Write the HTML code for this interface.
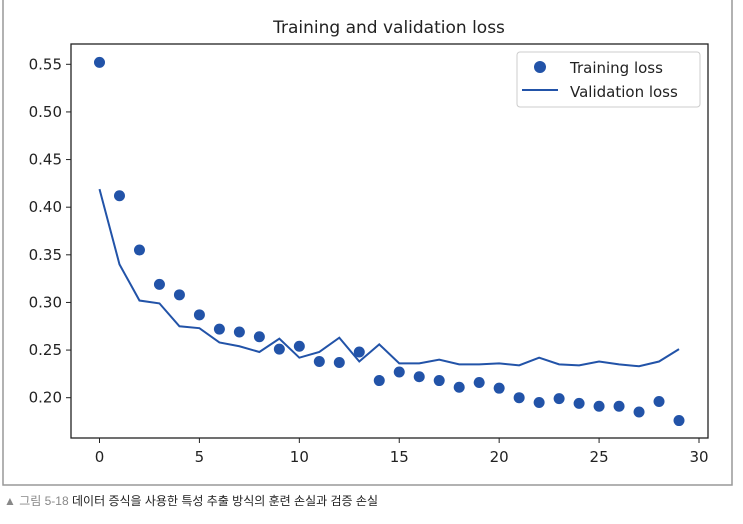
<!DOCTYPE html>
<html><head><meta charset="utf-8"><style>
body{margin:0;background:#fff;width:743px;height:519px;overflow:hidden}
svg text{font-family:"DejaVu Sans","Liberation Sans",sans-serif;fill:#222}
</style></head><body>
<svg width="743" height="519">
<rect x="3" y="-2" width="729" height="487" fill="#fff" stroke="#999" stroke-width="1.5"/>
<text x="389" y="33" font-size="17" text-anchor="middle">Training and validation loss</text>
<g id="plot"></g>
<g>
<rect x="517" y="52" width="183" height="55" fill="#fff" stroke="#ccc" rx="3"/>
<circle cx="540" cy="67" r="6" fill="#2253a8"/>
<text x="570" y="73" font-size="15">Training loss</text>
<line x1="522" y1="90" x2="558" y2="90" stroke="#2253a8" stroke-width="2"/>
<text x="570" y="97" font-size="15">Validation loss</text>
</g>
<text x="4" y="505" font-size="12" style="fill:#888;font-family:'Liberation Sans','Noto Sans CJK KR',sans-serif">▲ 그림 5-18 <tspan style="fill:#222">데이터 증식을 사용한 특성 추출 방식의 훈련 손실과 검증 손실</tspan></text>
</svg>
<script>
const epochs=[0,1,2,3,4,5,6,7,8,9,10,11,12,13,14,15,16,17,18,19,20,21,22,23,24,25,26,27,28,29];
const trainLoss=[0.552,0.412,0.355,0.319,0.308,0.287,0.272,0.269,0.264,0.251,0.254,0.238,0.237,0.248,0.218,0.227,0.222,0.218,0.211,0.216,0.210,0.200,0.195,0.199,0.194,0.191,0.191,0.185,0.196,0.176];
const valLoss=[0.419,0.340,0.302,0.299,0.275,0.273,0.258,0.254,0.248,0.262,0.242,0.248,0.263,0.238,0.256,0.236,0.236,0.240,0.235,0.235,0.236,0.234,0.242,0.235,0.234,0.238,0.235,0.233,0.238,0.251];
const xTicks=[0,5,10,15,20,25,30];
const yTicks=[0.20,0.25,0.30,0.35,0.40,0.45,0.50,0.55];
const NS="http://www.w3.org/2000/svg";
const X=v=>99.5+v*(699-99.5)/30;
const Y=v=>64.3+(0.55-v)*(397.7-64.3)/0.35;
const g=document.getElementById('plot');
function mk(t,a){const e=document.createElementNS(NS,t);for(const k in a)e.setAttribute(k,a[k]);g.appendChild(e);return e;}
const ax=mk('rect',{x:71,y:44,width:637,height:394,fill:'none',stroke:'#222','stroke-width':1.3});


xTicks.forEach(t=>{
 const l=mk('line',{x1:X(t),x2:X(t),y1:438,y2:443,stroke:'#222'});
 
 
 const tx=mk('text',{x:X(t),y:462,'font-size':15,'text-anchor':'middle'});tx.textContent=t;
 
 
});
yTicks.forEach(t=>{
 const l=mk('line',{x1:66,x2:71,y1:Y(t),y2:Y(t),stroke:'#222'});
 
 
 const tx=mk('text',{x:62,y:Y(t)+5,'font-size':15,'text-anchor':'end'});tx.textContent=t.toFixed(2);
 
 
});
const p=mk('polyline',{points:epochs.map((e,i)=>X(e)+','+Y(valLoss[i])).join(' '),fill:'none',stroke:'#2253a8','stroke-width':2});


epochs.forEach((e,i)=>{
 const c=mk('circle',{cx:X(e),cy:Y(trainLoss[i]),r:5.5,fill:'#2253a8'});
 
 
});
</script>
</body></html>
